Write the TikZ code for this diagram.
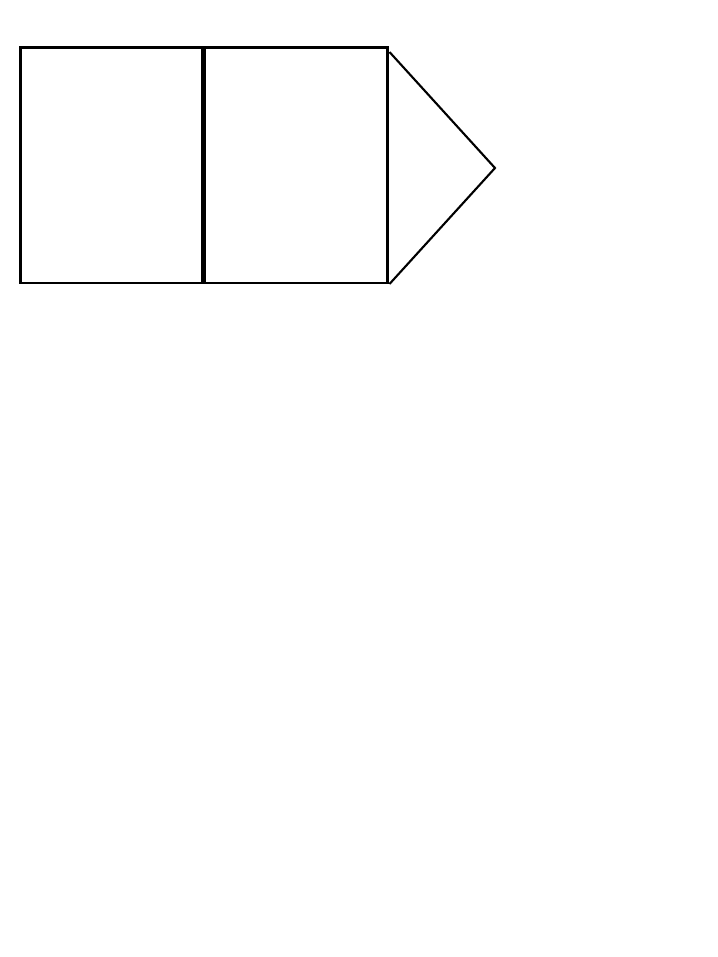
\documentclass[tikz,border=0pt]{standalone}
\usepackage{tikz}

\begin{document}
\begin{tikzpicture} [scale = 1]
\useasboundingbox (0.0, 0.0) rectangle (7.18, 9.57);
\draw[line width = 0.85pt] (0.205, 6.74) rectangle (2.025, 9.095);
\draw[line width = 0.85pt] (2.045, 6.74) rectangle (3.875, 9.095);
\draw[line width = 0.6pt] (3.895, 9.05) -- (4.95, 7.89) -- (3.895, 6.73);
\end{tikzpicture}
\end{document}
